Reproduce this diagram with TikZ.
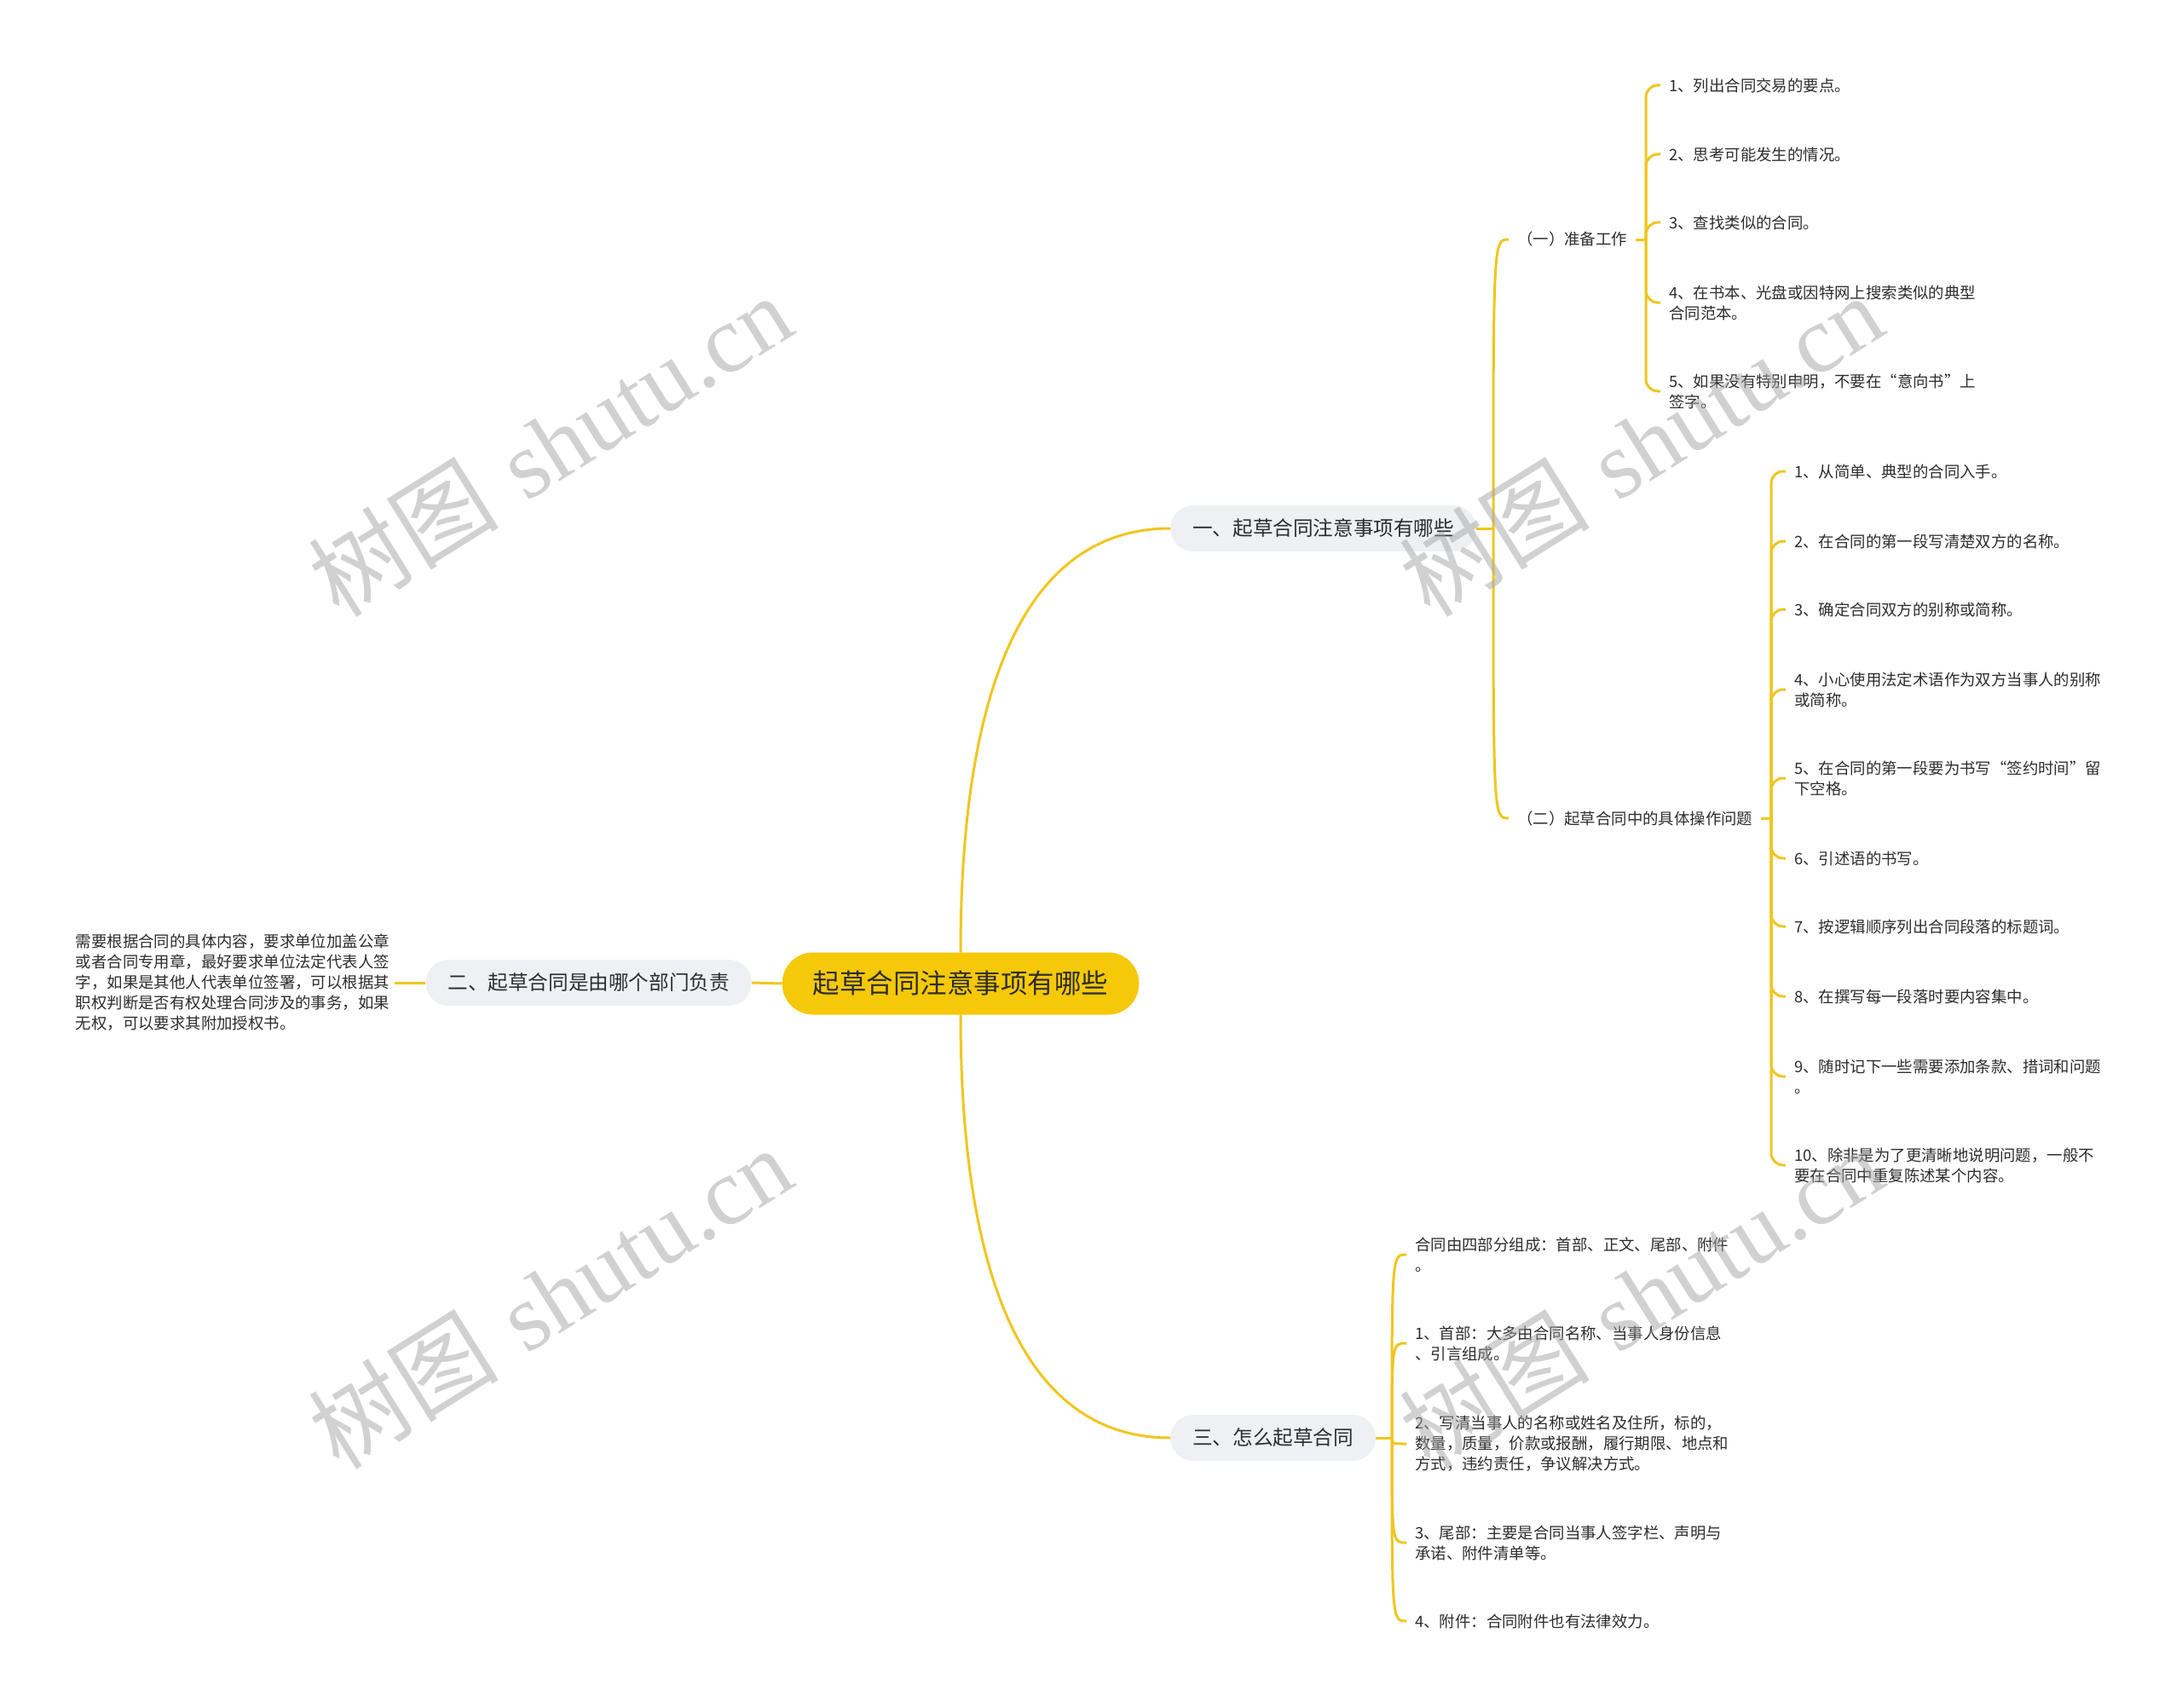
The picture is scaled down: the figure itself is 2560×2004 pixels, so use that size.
\documentclass[tikz,border=0pt]{standalone}
\usepackage{fontspec}
\newfontfamily\cjk{Noto Sans CJK SC}
\newfontfamily\wmserif{Liberation Serif}
\usetikzlibrary{calc}
\definecolor{rootY}{RGB}{245,201,8}
\definecolor{lineY}{RGB}{240,198,30}
\definecolor{pillG}{RGB}{238,240,243}
\definecolor{txt}{RGB}{45,45,45}
\definecolor{wm}{RGB}{165,165,165}
\tikzset{
 rootbox/.style={fill=rootY, rounded corners=36pt, minimum height=73pt, inner xsep=36pt, inner ysep=0pt, text=txt, font=\cjk\fontsize{31.5}{38}\selectfont},
 lvlbox/.style={fill=pillG, rounded corners=27pt, minimum height=54pt, inner xsep=26pt, inner ysep=0pt, text=txt, font=\cjk\fontsize{23.6}{28}\selectfont},
 subbox/.style={anchor=west, inner xsep=10pt, inner ysep=2pt, text=txt, font=\cjk\fontsize{18.4}{24}\selectfont},
 leafbox/.style={anchor=west, inner xsep=10pt, inner ysep=2pt, align=left, text=txt, font=\cjk\fontsize{18.4}{24}\selectfont},
 conn/.style={draw=lineY, line width=3pt},
 brk/.style={conn, rounded corners=14pt},
 wmtext/.style={text=wm, text opacity=0.5, rotate=32, inner sep=0pt, font=\fontsize{112}{116}\selectfont}
}
\begin{document}
\begin{tikzpicture}[x=1pt,y=-1pt]
\useasboundingbox (0,0) rectangle (2560,2004);
\fill[white] (0,0) rectangle (2560,2004);

% main nodes
\node[rootbox] (root) at (1127,1154) {起草合同注意事项有哪些};
\node[lvlbox, anchor=west] (n1) at (1373,620) {一、起草合同注意事项有哪些};
\node[lvlbox, anchor=east] (n2) at (882,1153) {二、起草合同是由哪个部门负责};
\node[lvlbox, anchor=west] (n3) at (1373,1687) {三、怎么起草合同};

% text of n2
\node[leafbox, anchor=east, inner xsep=6pt] (t2) at (463,1153) {需要根据合同的具体内容，要求单位加盖公章\\或者合同专用章，最好要求单位法定代表人签\\字，如果是其他人代表单位签署，可以根据其\\职权判断是否有权处理合同涉及的事务，如果\\无权，可以要求其附加授权书。};

% sub labels
\node[subbox] (s1) at (1770,281) {（一）准备工作};
\node[subbox] (s2) at (1770,960) {（二）起草合同中的具体操作问题};

% junctions
\coordinate (j1) at (1752,620);
\coordinate (ja) at (1931,281);
\coordinate (jb) at (2078,960);
\coordinate (j3) at (1633,1687);

% leaves of (一)
\node[leafbox] (a1) at (1948,100) {1、列出合同交易的要点。};
\node[leafbox] (a2) at (1948,181) {2、思考可能发生的情况。};
\node[leafbox] (a3) at (1948,261) {3、查找类似的合同。};
\node[leafbox] (a4) at (1948,355) {4、在书本、光盘或因特网上搜索类似的典型\\合同范本。};
\node[leafbox] (a5) at (1948,459) {5、如果没有特别申明，不要在“意向书”上\\签字。};

% leaves of (二)
\node[leafbox] (b1) at (2095,553) {1、从简单、典型的合同入手。};
\node[leafbox] (b2) at (2095,635) {2、在合同的第一段写清楚双方的名称。};
\node[leafbox] (b3) at (2095,715) {3、确定合同双方的别称或简称。};
\node[leafbox] (b4) at (2095,809) {4、小心使用法定术语作为双方当事人的别称\\或简称。};
\node[leafbox] (b5) at (2095,913) {5、在合同的第一段要为书写“签约时间”留\\下空格。};
\node[leafbox] (b6) at (2095,1007) {6、引述语的书写。};
\node[leafbox] (b7) at (2095,1087) {7、按逻辑顺序列出合同段落的标题词。};
\node[leafbox] (b8) at (2095,1169) {8、在撰写每一段落时要内容集中。};
\node[leafbox] (b9) at (2095,1263) {9、随时记下一些需要添加条款、措词和问题\\。};
\node[leafbox] (b10) at (2095,1367) {10、除非是为了更清晰地说明问题，一般不\\要在合同中重复陈述某个内容。};

% leaves of 三
\node[leafbox] (c0) at (1650,1472) {合同由四部分组成：首部、正文、尾部、附件\\。};
\node[leafbox] (c1) at (1650,1576) {1、首部：大多由合同名称、当事人身份信息\\、引言组成。};
\node[leafbox] (c2) at (1650,1694) {2、写清当事人的名称或姓名及住所，标的，\\数量，质量，价款或报酬，履行期限、地点和\\方式，违约责任，争议解决方式。};
\node[leafbox] (c3) at (1650,1810) {3、尾部：主要是合同当事人签字栏、声明与\\承诺、附件清单等。};
\node[leafbox] (c4) at (1650,1902) {4、附件：合同附件也有法律效力。};

% connectors
\draw[conn] (root.west) -- (n2.east);
\draw[conn] (n2.west) -- (t2.east);
\draw[conn] (root.north) .. controls ($(root.north)!0.5!(root.north|-n1.west)$) and ($(n1.west)!0.8!(root.north|-n1.west)$) .. (n1.west);
\draw[conn] (root.south) .. controls ($(root.south)!0.5!(root.south|-n3.west)$) and ($(n3.west)!0.8!(root.south|-n3.west)$) .. (n3.west);

\draw[conn] (n1.east) -- (j1);
\foreach \x in {s1,s2} \draw[conn] (j1) .. controls (j1|-\x.west) .. (\x.west);

\draw[conn] (s1.east) -- (ja);
\foreach \x in {a1,a2,a3,a4,a5} \draw[brk] (ja) |- (\x.west);

\draw[conn] (s2.east) -- (jb);
\foreach \x in {b1,b2,b3,b4,b5,b6,b7,b8,b9,b10} \draw[brk] (jb) |- (\x.west);

\draw[conn] (n3.east) -- (j3);
\foreach \x in {c0,c1,c2,c3,c4} \draw[conn] (j3) .. controls (j3|-\x.west) .. (\x.west);

% watermarks
\node[wmtext] (w1) at (645,522) {{\cjk 树图} {\wmserif shutu.cn}};
\node[wmtext] (w2) at (1925,522) {{\cjk 树图} {\wmserif shutu.cn}};
\node[wmtext] (w3) at (645,1522) {{\cjk 树图} {\wmserif shutu.cn}};
\node[wmtext] (w4) at (1925,1522) {{\cjk 树图} {\wmserif shutu.cn}};
\end{tikzpicture}
\end{document}
